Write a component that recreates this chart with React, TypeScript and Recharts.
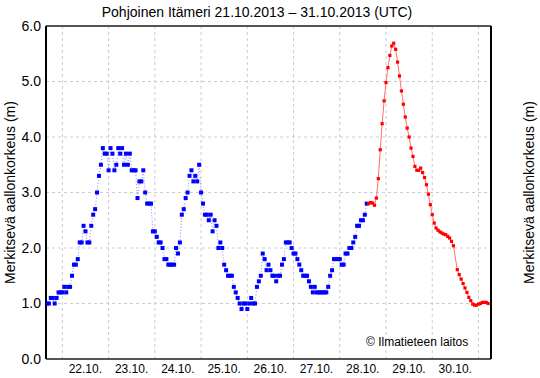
import { LineChart, Line, XAxis, YAxis, CartesianGrid, ReferenceLine } from "recharts";

// hours from 22.10.2013 00:00 UTC
const OBS_START = -8;
const obsValues = [
  1.0, 1.0, 1.1, 1.1, 1.0, 1.1, 1.2, 1.2,
  1.2, 1.3, 1.2, 1.3, 1.3, 1.5, 1.7, 1.7, 1.8, 2.1,
  2.1, 2.4, 2.3, 2.1, 2.1, 2.4, 2.6, 2.7, 3.0, 3.3,
  3.5, 3.8, 3.7, 3.7, 3.4, 3.8, 3.7, 3.4, 3.5, 3.8,
  3.7, 3.8, 3.5, 3.7, 3.5, 3.7, 3.4, 3.4, 3.4, 2.9,
  3.2, 3.2, 3.4, 3.0, 2.8, 2.8, 2.8, 2.3, 2.3, 2.2,
  2.1, 2.1, 2.0, 1.8, 1.8, 1.7, 1.7, 1.7, 1.7, 2.0,
  1.9, 2.1, 2.6, 2.7, 2.9, 3.0, 3.3, 3.4, 3.2, 3.3,
  3.2, 3.5, 3.0, 2.8, 2.6, 2.6, 2.5, 2.6, 2.3, 2.5,
  2.4, 2.0, 2.1, 2.0, 1.7, 1.6, 1.5, 1.5, 1.5, 1.3,
  1.2, 1.1, 1.0, 0.9, 1.0, 1.0, 0.9, 1.0, 1.1, 1.0,
  1.0, 1.3, 1.4, 1.5, 1.9, 1.8, 1.6, 1.7, 1.6, 1.5,
  1.5, 1.4, 1.5, 1.5, 1.7, 1.8, 2.1, 2.1, 2.1, 2.0,
  1.9, 1.9, 1.8, 1.7, 1.6, 1.5, 1.5, 1.5, 1.4, 1.3,
  1.2, 1.3, 1.2, 1.2, 1.2, 1.2, 1.2, 1.2, 1.3, 1.5,
  1.6, 1.8, 1.8, 1.8, 1.8, 1.7, 1.7, 1.9, 1.9, 2.0,
  2.0, 2.1, 2.2, 2.4, 2.4, 2.5, 2.5, 2.6, 2.8,
];

const FC_START = 159;
const fcValues: (number | null)[] = [
  2.8, 2.82, 2.81, 2.77, 2.9, 3.25, 3.77, 4.24, 4.65, 4.98,
  5.25, 5.47, 5.64, 5.69, 5.58, 5.35, 5.1, 4.83, 4.59, 4.36,
  4.16, 4.0, 3.8, 3.65, 3.47, 3.4, 3.4, 3.44, 3.36, 3.27,
  3.14, 2.97, 2.78, 2.6, 2.45, 2.36, 2.32, 2.29, 2.27, 2.25,
  2.24, 2.21, 2.18, 2.12, 2.04, null, 1.61, 1.52, 1.44, 1.36,
  1.28, 1.2, 1.11, 1.05, 0.99, 0.97, 0.97, 0.99, 1.0, 1.02,
  1.02, 1.02, 1.0,
];

const dayTicks = [0, 24, 48, 72, 96, 120, 144, 168, 192, 216];
const yTicks = [0, 1, 2, 3, 4, 5, 6];

const obsData = obsValues.map((v, i) => ({ t: OBS_START + i, v }));
const fcData = fcValues.map((v, i) => ({ t: FC_START + i, v }));

const FONT = "'Liberation Sans', Arial, sans-serif";

const BlueDot = (p: any) => {
  if (p.cx == null || p.cy == null || p.value == null) return <g key={p.index} />;
  return <rect key={p.index} x={p.cx - 2} y={p.cy - 2} width={4} height={4} fill="#0000ff" />;
};

const RedDot = (p: any) => {
  if (p.cx == null || p.cy == null || p.value == null) return <g key={p.index} />;
  return <rect key={p.index} x={p.cx - 1.6} y={p.cy - 1.6} width={3.2} height={3.2} fill="#ff0000" />;
};

const DayTick = (p: any) => {
  const { x, y, payload } = p;
  if (payload.value >= 216) return <g />;
  const day = 22 + payload.value / 24;
  return (
    <text x={x + 23} y={y + 12} textAnchor="middle" fontSize={12} fontFamily={FONT} fill="#000">
      {`${day}.10.`}
    </text>
  );
};

export default function App() {
  return (
    <div style={{ position: "absolute", left: 0, top: 0, width: 540, height: 378, background: "#fff" }}>
      <LineChart
        width={540}
        height={378}
        margin={{ top: 26, right: 0, bottom: 0, left: 0 }}
      >
        <CartesianGrid stroke="#cccccc" strokeDasharray="3 3" />
        <XAxis
          dataKey="t"
          type="number"
          domain={[-8.5, 222.5]}
          ticks={dayTicks}
          allowDataOverflow
          height={19}
          tickLine={false}
          tickSize={0}
          axisLine={{ stroke: "#555", strokeWidth: 2 }}
          tick={<DayTick />}
        />
        <YAxis
          domain={[0, 6]}
          ticks={yTicks}
          width={46}
          tickLine={false}
          tickSize={3}
          axisLine={{ stroke: "#000", strokeWidth: 2 }}
          tickFormatter={(v: number) => v.toFixed(1)}
          tick={{ fontSize: 14, fontFamily: FONT, fill: "#000" }}
          label={{
            value: "Merkitsevä aallonkorkeus (m)",
            angle: -90,
            position: "insideLeft",
            offset: 10,
            style: { textAnchor: "middle", fontSize: 14, fontFamily: FONT, fill: "#000" },
          }}
        />
        <YAxis
          yAxisId="r"
          orientation="right"
          domain={[0, 6]}
          ticks={yTicks}
          width={49}
          tickLine={false}
          tickSize={3}
          axisLine={{ stroke: "#000", strokeWidth: 2 }}
          tickFormatter={(v: number) => v.toFixed(1)}
          tick={{ fontSize: 14, fontFamily: FONT, fill: "#000" }}
          label={{
            value: "Merkitsevä aallonkorkeus (m)",
            angle: -90,
            position: "insideRight",
            offset: 11,
            style: { textAnchor: "middle", fontSize: 14, fontFamily: FONT, fill: "#000" },
          }}
        />
        <ReferenceLine y={6} stroke="#555" strokeWidth={2} />
        <Line
          data={obsData}
          dataKey="v"
          stroke="#8888ff"
          strokeWidth={1}
          strokeDasharray="1 2"
          dot={BlueDot}
          activeDot={false}
          isAnimationActive={false}
        />
        <Line
          data={fcData}
          dataKey="v"
          stroke="#ff7070"
          strokeWidth={1}
          connectNulls
          dot={RedDot}
          activeDot={false}
          isAnimationActive={false}
        />
      </LineChart>
      <div
        style={{
          position: "absolute",
          left: 100,
          top: 4,
          width: 314,
          textAlign: "center",
          fontFamily: FONT,
          fontSize: 14,
          lineHeight: "16px",
          whiteSpace: "nowrap",
        }}
      >
        Pohjoinen Itämeri 21.10.2013 – 31.10.2013 (UTC)
      </div>
      <div
        style={{
          position: "absolute",
          left: 366,
          top: 335,
          fontFamily: FONT,
          fontSize: 12,
          lineHeight: "14px",
          whiteSpace: "nowrap",
        }}
      >
        © Ilmatieteen laitos
      </div>
    </div>
  );
}
